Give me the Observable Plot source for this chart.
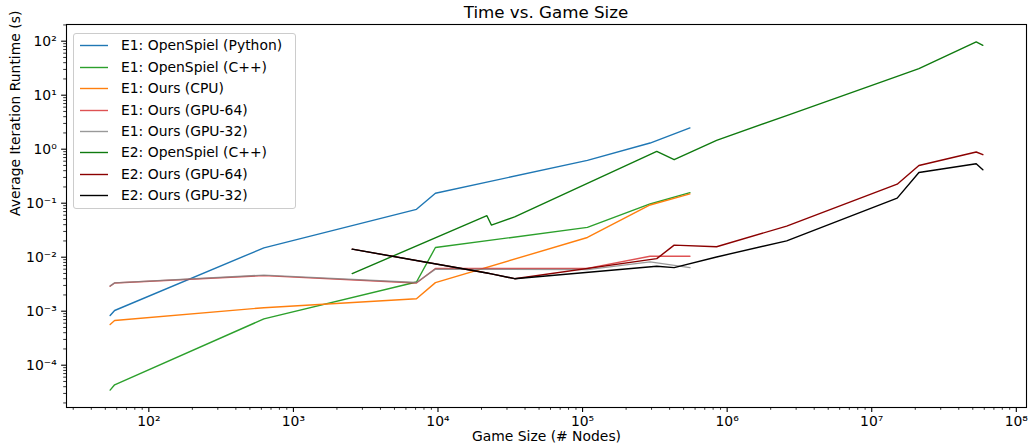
<!DOCTYPE html>
<html><head><meta charset="utf-8">
<script src="https://cdn.jsdelivr.net/npm/d3@7"></script>
<script src="https://cdn.jsdelivr.net/npm/@observablehq/plot@0.6"></script>
<style>
body{margin:0;background:#fff;font-family:"DejaVu Sans",sans-serif;}
#wrap{position:relative;width:1031px;height:445px;overflow:hidden;}
#title{height:20px;line-height:24px;font-size:16.7px;text-align:center;margin-left:66px;width:960px;white-space:nowrap;}
#legend{position:absolute;left:73px;top:33px;width:221px;height:174px;border:1px solid #cccccc;border-radius:3px;background:rgba(255,255,255,0.8);}
.row{position:absolute;left:0;height:21.4px;line-height:21.4px;font-size:13.9px;white-space:nowrap;}
.sw{position:absolute;left:6px;top:0;}
.lb{position:absolute;left:47px;top:0;}
</style></head><body>
<div id="wrap"><div id="title"></div><div id="chart"></div><div id="legend"></div></div>
<script>
const titleText = "Time vs. Game Size";
const xLabel = "Game Size (# Nodes)";
const yLabel = "Average Iteration Runtime (s)";

const seriesNames = ["E1: OpenSpiel (Python)","E1: OpenSpiel (C++)","E1: Ours (CPU)","E1: Ours (GPU-64)","E1: Ours (GPU-32)","E2: OpenSpiel (C++)","E2: Ours (GPU-64)","E2: Ours (GPU-32)"];
const seriesColors = ["#1f77b4","#2ca02c","#ff7f0e","#d62728","#7f7f7f","#0f7a0f","#8b0000","#000000"];
const seriesOpacity = [1,1,1,0.8,0.8,1,1,1];

const e1Sizes = [54, 58, 625, 7100, 9600, 108000, 293000, 553000];
const e2Sizes = [2550, 21800, 23400, 33900, 326000, 430000, 845000, 2580000, 15000000, 21200000, 52800000, 58700000];

const e1Python = [8.3e-4, 1.03e-3, 0.0149, 0.077, 0.153, 0.62, 1.30, 2.48];
const e1Cpp    = [3.46e-5, 4.34e-5, 7.2e-4, 3.47e-3, 0.0151, 0.0356, 0.0968, 0.157];
const e1Cpu    = [5.67e-4, 6.73e-4, 1.16e-3, 1.70e-3, 3.38e-3, 0.0232, 0.0927, 0.149];
const e1Gpu64  = [2.89e-3, 3.33e-3, 4.56e-3, 3.33e-3, 6.16e-3, 6.2e-3, 0.0104, 0.0104];
const e1Gpu32  = [2.95e-3, 3.35e-3, 4.65e-3, 3.4e-3, 6.0e-3, 5.9e-3, 8.2e-3, 6.4e-3];
const e2Cpp    = [4.97e-3, 0.0587, 0.0394, 0.056, 0.91, 0.638, 1.46, 4.2, 22.3, 31.0, 97, 84];
const e2Gpu64  = [0.0141, 5.1e-3, 4.9e-3, 4.0e-3, 9.4e-3, 0.0167, 0.0156, 0.0377, 0.225, 0.50, 0.887, 0.79];
const e2Gpu32  = [0.0141, 5.1e-3, 4.9e-3, 4.0e-3, 6.8e-3, 6.4e-3, 0.0101, 0.0201, 0.124, 0.37, 0.537, 0.416];

const majorX = [1e2, 1e3, 1e4, 1e5, 1e6, 1e7, 1e8];
const majorY = [1e-4, 1e-3, 1e-2, 1e-1, 1e0, 1e1, 1e2];

const seriesValues = [e1Python, e1Cpp, e1Cpu, e1Gpu64, e1Gpu32, e2Cpp, e2Gpu64, e2Gpu32];
const seriesSizes = [e1Sizes, e1Sizes, e1Sizes, e1Sizes, e1Sizes, e2Sizes, e2Sizes, e2Sizes];

const tables = seriesNames.map((name, i) => seriesSizes[i].map((x, j) => ({series: name, x, y: seriesValues[i][j]})));
const all = tables.flat();

function padLog(vals) {
  const lo = Math.log10(d3.min(vals)), hi = Math.log10(d3.max(vals));
  const p = (hi - lo) * 0.05;
  return [10 ** (lo - p), 10 ** (hi + p)];
}
const xDomain = padLog(all.map(d => d.x));
const yDomain = padLog(all.map(d => d.y));

function minorTicks(dom) {
  const out = [];
  for (let e = Math.floor(Math.log10(dom[0])); e <= Math.ceil(Math.log10(dom[1])); e++)
    for (let k = 2; k <= 9; k++) { const v = k * 10 ** e; if (v >= dom[0] && v <= dom[1]) out.push(v); }
  return out;
}
const supMap = {"-":"⁻","0":"⁰","1":"¹","2":"²","3":"³","4":"⁴","5":"⁵","6":"⁶","7":"⁷","8":"⁸","9":"⁹"};
const fmt = d => "10" + String(Math.round(Math.log10(d))).split("").map(c => supMap[c]).join("");

document.getElementById("title").textContent = titleText;

const lines = tables.map((t, i) => Plot.line(t, {x: "x", y: "y", stroke: seriesColors[i], strokeOpacity: seriesOpacity[i], strokeWidth: 1.4}));

const chart = Plot.plot({
  width: 1031, height: 425,
  marginLeft: 66, marginRight: 5, marginTop: 4, marginBottom: 38,
  style: {fontFamily: "DejaVu Sans", fontSize: "13.9px", color: "black", background: "white", overflow: "visible"},
  x: {type: "log", domain: xDomain},
  y: {type: "log", domain: yDomain},
  marks: [
    Plot.axisX(majorX, {tickSize: 4.9, tickPadding: 3.5, tickFormat: fmt, label: null, strokeWidth: 1.1, fontSize: 13.9}),
    Plot.axisX(minorTicks(xDomain), {tickSize: 2.8, fill: "none", tickFormat: () => "", label: null, strokeWidth: 0.8}),
    Plot.axisY(majorY, {tickSize: 4.9, tickPadding: 4.9, tickFormat: fmt, label: null, strokeWidth: 1.1, fontSize: 13.9}),
    Plot.axisY(minorTicks(yDomain), {tickSize: 2.8, fill: "none", tickFormat: () => "", label: null, strokeWidth: 0.8}),
    ...lines,
    Plot.frame({stroke: "black", strokeWidth: 1.1}),
    Plot.text([xLabel], {frameAnchor: "bottom", lineAnchor: "middle", dy: 29.5, fontSize: 13.9}),
    Plot.text([yLabel], {frameAnchor: "left", rotate: -90, dx: -51, fontSize: 13.9})
  ]
});
document.getElementById("chart").appendChild(chart);

const leg = document.getElementById("legend");
const NS = "http://www.w3.org/2000/svg";
seriesNames.forEach((name, i) => {
  const r = document.createElement("div");
  r.className = "row";
  r.style.top = (1.3 + 21.4 * i) + "px";
  const sw = document.createElementNS(NS, "svg");
  sw.setAttribute("class", "sw");
  sw.setAttribute("width", "30");
  sw.setAttribute("height", "21");
  const ln = document.createElementNS(NS, "line");
  ln.setAttribute("x1", "0"); ln.setAttribute("x2", "28");
  ln.setAttribute("y1", "10.5"); ln.setAttribute("y2", "10.5");
  ln.setAttribute("stroke", seriesColors[i]);
  ln.setAttribute("stroke-opacity", seriesOpacity[i]);
  ln.setAttribute("stroke-width", "1.4");
  sw.appendChild(ln);
  const lb = document.createElement("span");
  lb.className = "lb";
  lb.textContent = name;
  r.appendChild(sw); r.appendChild(lb);
  leg.appendChild(r);
});
</script>
</body></html>
